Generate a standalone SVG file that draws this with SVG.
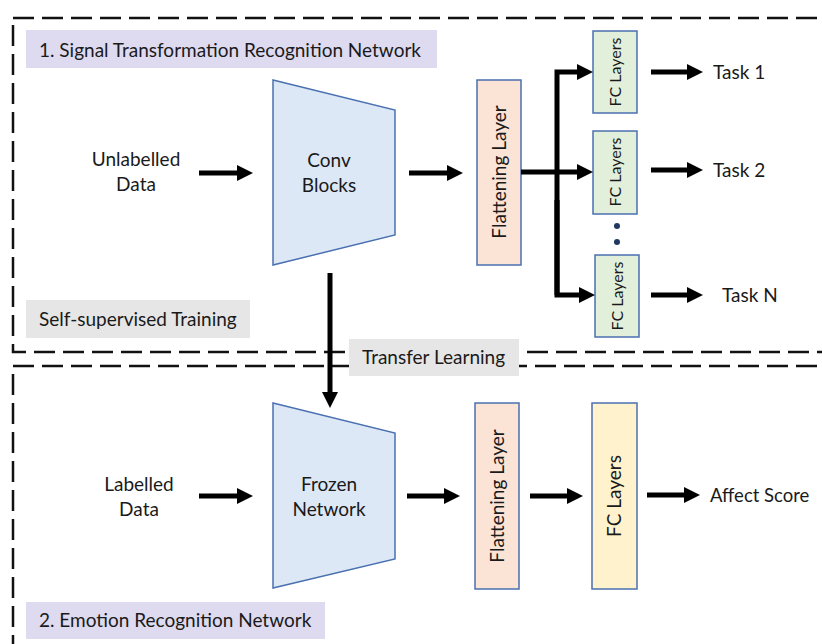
<svg xmlns="http://www.w3.org/2000/svg" width="822" height="644" viewBox="0 0 822 644">
<defs>
<style>
text{font-family:Lato,"Liberation Sans",sans-serif;fill:#1a1a1a;font-size:19px}
.c{text-anchor:middle}
.s{font-size:16px}
.dash{fill:none;stroke:#111;stroke-width:2.5;stroke-dasharray:21 8}
.lab{fill:#dedaf0}
.gray{fill:#e6e6e6}
.trap{fill:#dce8f6;stroke:#4a70b0;stroke-width:1.5}
.flat{fill:#fbe3d6;stroke:#4a70b0;stroke-width:1.5}
.fcg{fill:#e2efda;stroke:#4a70b0;stroke-width:1.5}
.fcy{fill:#fff2cc;stroke:#4a70b0;stroke-width:1.5}
.ar{fill:none;stroke:#000;stroke-width:5;marker-end:url(#ah)}
</style>
<marker id="ah" markerUnits="userSpaceOnUse" markerWidth="17" markerHeight="16" refX="4" refY="8" orient="auto">
<path d="M0,0 L16,8 L0,16 z" fill="#000"/>
</marker>
</defs>
<rect width="822" height="644" fill="#fff"/>

<g id="boxes">
<rect class="dash" x="13" y="18" width="840" height="334"/>
<rect class="dash" x="13" y="366" width="840" height="320"/>
</g>

<g id="title1"><rect class="lab" x="26" y="30" width="411" height="38"/><text x="39" y="57">1. Signal Transformation Recognition Network</text></g>
<g id="selfsup"><rect class="gray" x="26" y="300" width="224" height="38"/><text x="39" y="326">Self-supervised Training</text></g>
<g id="transfer"><rect class="gray" x="349" y="339" width="170" height="37"/><text x="362" y="364">Transfer Learning</text></g>
<g id="title2"><rect class="lab" x="26" y="602" width="299" height="37"/><text x="39" y="627">2. Emotion Recognition Network</text></g>

<g id="unlabelled"><text class="c" x="136" y="166">Unlabelled</text><text class="c" x="136" y="191">Data</text></g>
<g id="conv"><polygon class="trap" points="273,80 395,110 395,235 273,265"/><text class="c" x="329" y="167">Conv</text><text class="c" x="329" y="192">Blocks</text></g>
<g id="flat1"><rect class="flat" x="477" y="80" width="44" height="185"/><text class="c" transform="translate(506,172) rotate(-90)">Flattening Layer</text></g>
<g id="fc1"><rect class="fcg" x="593" y="31" width="44" height="82"/><text class="c s" transform="translate(620.5,72) rotate(-90)">FC Layers</text></g>
<g id="fc2"><rect class="fcg" x="593" y="131" width="44" height="83"/><text class="c s" transform="translate(620.5,172) rotate(-90)">FC Layers</text></g>
<g id="dots"><circle cx="617" cy="226" r="3" fill="#1f3864"/><circle cx="617" cy="242" r="3" fill="#1f3864"/></g>
<g id="fcn"><rect class="fcg" x="595" y="255" width="44" height="82"/><text class="c s" transform="translate(622.5,296) rotate(-90)">FC Layers</text></g>
<g id="task1"><text x="713" y="79">Task 1</text></g>
<g id="task2"><text x="713" y="177">Task 2</text></g>
<g id="taskn"><text x="722" y="302">Task N</text></g>

<g id="labelled"><text class="c" x="139" y="491">Labelled</text><text class="c" x="139" y="516">Data</text></g>
<g id="frozen"><polygon class="trap" points="273,403 395,433 395,559 273,588"/><text class="c" x="329" y="491">Frozen</text><text class="c" x="329" y="516">Network</text></g>
<g id="flat2"><rect class="flat" x="475" y="403" width="44" height="186"/><text class="c" transform="translate(504,496) rotate(-90)">Flattening Layer</text></g>
<g id="fc3"><rect class="fcy" x="592" y="403" width="45" height="186"/><text class="c" transform="translate(621,496) rotate(-90)">FC Layers</text></g>
<g id="affect"><text x="710" y="502" style="font-size:18.5px">Affect Score</text></g>

<g id="connectors">
<path class="ar" d="M199,173 H241"/>
<path class="ar" d="M409,173 H451"/>
<path class="ar" d="M521,172 H581"/>
<path class="ar" d="M557,295 V72 H581"/>
<path class="ar" d="M557,200 V295 H583"/>
<path class="ar" d="M651,72 H691"/>
<path class="ar" d="M651,170 H691"/>
<path class="ar" d="M651,295 H691"/>
<path class="ar" d="M330,273 V396"/>
<path class="ar" d="M199,496 H241"/>
<path class="ar" d="M407,496 H448"/>
<path class="ar" d="M530,496 H571"/>
<path class="ar" d="M647,495 H688"/>
</g>
</svg>
